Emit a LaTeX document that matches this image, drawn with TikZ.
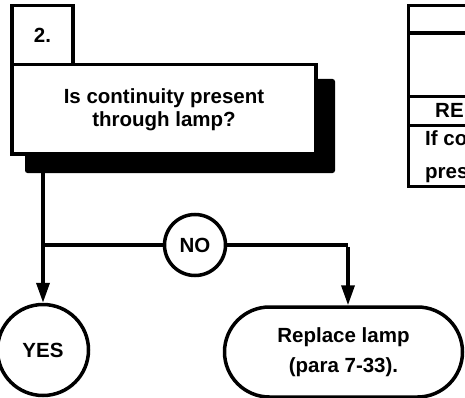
\documentclass[tikz,border=0pt]{standalone}
\usepackage{fontspec}
\setmainfont{Liberation Sans}
\usetikzlibrary{arrows.meta,shapes.misc}
\begin{document}
\begin{tikzpicture}[x=1pt,y=-1pt,
  every node/.style={font=\fontsize{20.5}{23}\selectfont\bfseries, inner sep=0pt},
  lw/.style={line width=3.5pt},
  boxst/.style={lw, draw, fill=white, align=center},
  circst/.style={lw, draw, circle, fill=white},
  arr/.style={lw, -{Triangle[length=20pt,width=13pt]}},
  ln/.style={lw}]
\useasboundingbox (0,0) rectangle (465,398);
\clip (0,0) rectangle (465,398);
% shadow and main decision box
\node[fill=black, rounded corners=2.5pt, minimum width=310, minimum height=94] (shadow) at (180,126) {};
\node[boxst, minimum width=61, minimum height=59] (num) at (42.5,35) {2.};
\node[boxst, minimum width=304, minimum height=89.5] (main) at (164,109.25) {Is continuity present\\through lamp?};
% outcomes
\node[circst, minimum size=91] (yes) at (43,350) {YES};
\node[circst, minimum size=61] (no) at (195,245) {NO};
\node[lw, draw, rounded rectangle, fill=white, minimum width=238, minimum height=90, align=center,
      font=\fontsize{20.5}{30}\selectfont\bfseries] (rep) at (343.5,352) {Replace lamp\\(para 7-33).};
% connectors
\coordinate (br) at (43,245);
\coordinate (rt) at (348,245);
\draw[arr] (yes.north |- shadow.south) -- (yes.north);
\draw[ln] (br) -- (no.west);
\draw[ln] (no.east) -- (rt);
\draw[arr] ([yshift=-1.75pt]rt) -- (rt |- rep.north);
% right-hand table (cut by the page edge)
\draw[lw] (480,5.5) -- (408.5,5.5) -- (408.5,186.5) -- (480,186.5);
\draw[lw] (408.5,33) -- (480,33);
\draw[lw] (408.5,96.5) -- (480,96.5);
\draw[lw] (408.5,125.5) -- (480,125.5);
\node[anchor=base west] (re) at (435,118) {RE};
\node[anchor=base west] (t1) at (425,146) {If co};
\node[anchor=base west] (t2) at (425,178) {pres};
\end{tikzpicture}
\end{document}
